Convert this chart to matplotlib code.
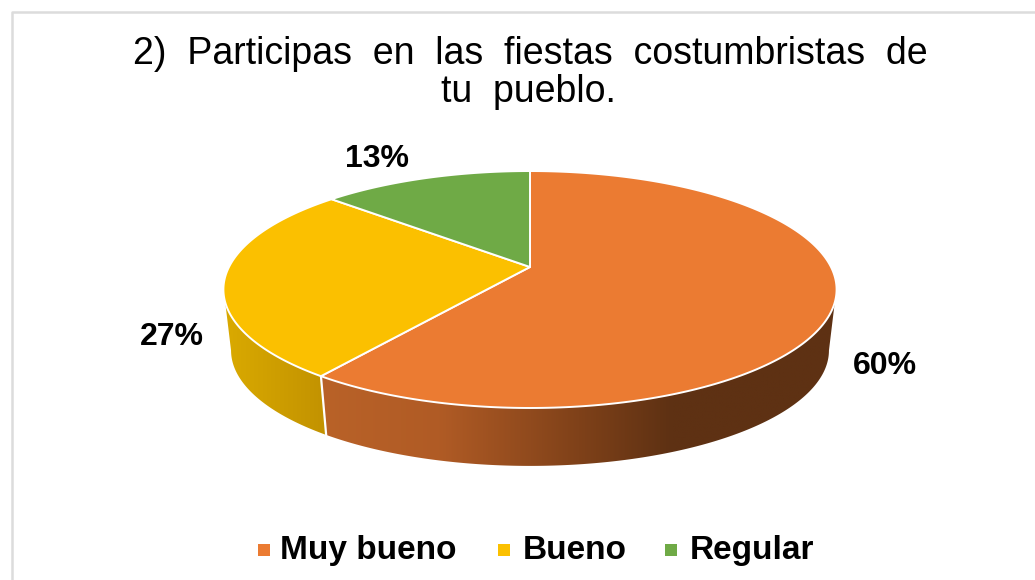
"""
plot.py - 3D style pie chart, "Participas en las fiestas costumbristas"
Outputs: out.png
"""
import numpy as np
import matplotlib.pyplot as plt
from matplotlib.colors import LinearSegmentedColormap
from matplotlib.patches import Polygon

plt.rcParams["font.family"] = ["Liberation Sans", "DejaVu Sans"]

# data
categories = ["Muy bueno", "Bueno", "Regular"]
counts = [9, 4, 2]
pct_labels = ["60%", "27%", "13%"]
title_lines = ["2)  Participas  en  las  fiestas  costumbristas  de", "tu  pueblo."]

ORANGE = "#EB7B32"
YELLOW = "#FBC000"
GREEN = "#6FAA46"
colors = [ORANGE, YELLOW, GREEN]

# geometry of the tilted disc, in pixels
CX = 530.0
TOP_Y, BOT_Y = 267.0, 328.5
TOP_A, BOT_A = 114.2, 111.3
TOP_B, BOT_B = 301.0, 293.5
PERSP = 0.19


def rim(t, level="top"):
    """Perspective projection of the unit circle onto the picture."""
    y0, a, b = (TOP_Y, TOP_A, TOP_B) if level == "top" else (BOT_Y, BOT_A, BOT_B)
    u, v = np.cos(t), np.sin(t)
    d = 1 + PERSP * v
    return np.column_stack([CX + b * u / d, y0 - a * v / d])


fig = plt.figure(figsize=(10.35, 5.8), dpi=100)
ax = fig.add_axes([0, 0, 1, 1])
ax.set_xlim(0, 1035)
ax.set_ylim(580, 0)
ax.axis("off")

# chart frame, runs off the right and bottom of the crop
ax.plot([11.5, 11.5, 1035], [580, 11.5, 11.5], color="#DCDCDC", lw=1.8, zorder=1)

# slice angles, clockwise from 12 o'clock
fracs = np.array(counts) / np.sum(counts)
edges = np.pi / 2 - 2 * np.pi * np.concatenate([[0], np.cumsum(fracs)])

# side wall: only the front part of the disc shows
wall_right = np.radians(-17.0)
wall_left = np.radians(-163.0)
low_right = np.radians(-11.0)
low_left = np.radians(-169.0)

wall_cmaps = [
    LinearSegmentedColormap.from_list(
        "w0", [(0, "#B96228"), (0.23, "#B05B25"), (0.5, "#7F4119"), (0.68, "#5E3113"), (1, "#5E3113")]),
    LinearSegmentedColormap.from_list("w1", [(0, "#DAAA00"), (1, "#C29200")]),
]
wall_x = [(321, 837), (224, 327)]
split = edges[1]  # orange / yellow border on the front

wall_parts = [(wall_right, split, low_right, split), (split, wall_left, split, low_left)]
for (t0, t1, b0, b1), cmap, xr in zip(wall_parts, wall_cmaps, wall_x):
    upper = rim(np.linspace(t0, t1, 200), "top")
    lower = rim(np.linspace(b1, b0, 200), "low")
    poly = Polygon(np.vstack([upper, lower]), closed=True, fc="none", ec="none",
                   transform=ax.transData)
    ax.add_patch(poly)
    grad = np.linspace(0, 1, 256).reshape(1, -1)
    im = ax.imshow(grad, extent=[xr[0], xr[1], 480, 280], cmap=cmap, aspect="auto",
                   zorder=2, interpolation="bilinear")
    im.set_clip_path(poly)

ax.set_xlim(0, 1035)
ax.set_ylim(580, 0)

# white seam between the two walls
ax.plot(*np.vstack([rim(np.array([split]), "top"), rim(np.array([split]), "low")]).T,
        color="white", lw=1.6, zorder=3)

# top face
for i, c in enumerate(colors):
    ts = np.linspace(edges[i], edges[i + 1], 240)
    pts = np.vstack([[CX, TOP_Y], rim(ts, "top")])
    ax.fill(pts[:, 0], pts[:, 1], fc=c, ec="white", lw=1.4, joinstyle="round", zorder=4)

# percent labels
label_xy = [(885, 374), (172, 345), (377, 167)]
for lab, (x, y) in zip(pct_labels, label_xy):
    ax.text(x, y, lab, fontsize=23, fontweight="bold", color="black",
            ha="center", va="baseline", zorder=5)

# title
ax.text(530, 64, title_lines[0], fontsize=27, color="black", ha="center", va="baseline")
ax.text(528, 102, title_lines[1], fontsize=27, color="black", ha="center", va="baseline")

# legend
marker_x = [264, 504, 671]
text_x = [280, 523, 690]
for name, c, mx, tx in zip(categories, colors, marker_x, text_x):
    ax.scatter([mx], [550], marker="s", s=85, color=c, linewidths=0, zorder=5)
    ax.text(tx, 559, name, fontsize=24, fontweight="bold", color="black",
            ha="left", va="baseline")

fig.savefig("out.png", dpi=100, facecolor="white")
plt.close(fig)
